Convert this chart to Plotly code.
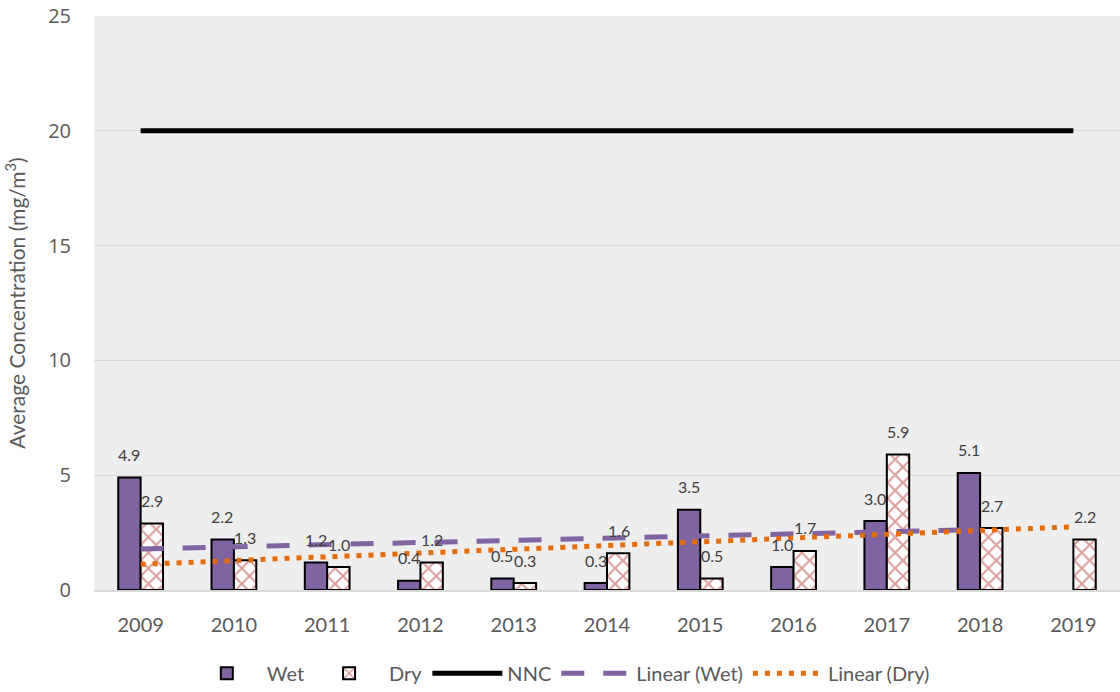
import numpy as np
import plotly.graph_objects as go

# Annual average concentrations (mg/m³)
years = ["2009", "2010", "2011", "2012", "2013", "2014", "2015", "2016", "2017", "2018", "2019"]
wet = [4.9, 2.2, 1.2, 0.4, 0.5, 0.3, 3.5, 1.0, 3.0, 5.1, None]
dry = [2.9, 1.3, 1.0, 1.2, 0.3, 1.6, 0.5, 1.7, 5.9, 2.7, 2.2]
nnc = [20] * len(years)
y_ticks = [0, 5, 10, 15, 20, 25]

PURPLE = "#8064A2"
RED = "#C0504D"
ORANGE = "#E46C0A"
TEXT = "#595959"
FONT = "Lato"


def linear_trend(values):
    idx = np.array([i for i, v in enumerate(values) if v is not None], dtype=float)
    vals = np.array([v for v in values if v is not None], dtype=float)
    slope, intercept = np.polyfit(idx, vals, 1)
    return [intercept + slope * i for i in idx], [years[int(i)] for i in idx]


wet_trend, wet_x = linear_trend(wet)
dry_trend, dry_x = linear_trend(dry)

fig = go.Figure()

fig.add_trace(go.Bar(
    x=years, y=wet, name="Wet",
    marker=dict(color=PURPLE, line=dict(color="black", width=2)),
))
fig.add_trace(go.Bar(
    x=years, y=dry, name="Dry",
    marker=dict(
        color="white",
        line=dict(color="black", width=2),
        pattern=dict(shape="x", fgcolor="#B8403D", bgcolor="white", size=11, solidity=0.36),
    ),
))
fig.add_trace(go.Scatter(
    x=years, y=nnc, name="NNC", mode="lines",
    line=dict(color="black", width=5),
))
fig.add_trace(go.Scatter(
    x=wet_x, y=wet_trend, name="Linear (Wet)", mode="lines",
    line=dict(color=PURPLE, width=5, dash="23px,19px"),
))
fig.add_trace(go.Scatter(
    x=dry_x, y=dry_trend, name="Linear (Dry)", mode="lines",
    line=dict(color=ORANGE, width=5, dash="5px,7px"),
))

# value labels above each bar (category index used as x position)
annotations = []
for series, shift in ((wet, -11.5), (dry, 11.5)):
    for i, v in enumerate(series):
        if v is None:
            continue
        annotations.append(dict(
            x=i, y=v, xref="x", yref="y", text=f"{v:.1f}", showarrow=False,
            xshift=shift, yshift=23, yanchor="middle",
            font=dict(family=FONT, size=16, color="#404040"),
        ))

fig.update_layout(
    width=1120, height=692,
    margin=dict(l=94, r=0, t=16, b=102, autoexpand=False),
    paper_bgcolor="white",
    plot_bgcolor="#EEEEEE",
    barmode="group",
    bargap=0.52,
    bargroupgap=0,
    font=dict(family=FONT, color=TEXT),
    showlegend=True,
    legend=dict(
        orientation="h", x=0.455, xanchor="center",
        y=-0.145, yanchor="middle",
        font=dict(family=FONT, size=20, color=TEXT),
        itemwidth=70, traceorder="normal",
    ),
    annotations=annotations,
)
fig.update_xaxes(
    type="category",
    range=[-0.5, len(years) - 0.5],
    showgrid=False,
    showline=True, linecolor="#D9D9D9", linewidth=2,
    ticks="", ticklabelstandoff=16, tickangle=0,
    tickfont=dict(family=FONT, size=20, color=TEXT),
)
fig.update_yaxes(
    range=[0, 25], tickvals=y_ticks,
    showgrid=True, gridcolor="#D9D9D9", gridwidth=1,
    zeroline=False, showline=False,
    ticks="", ticklabelstandoff=22,
    tickfont=dict(family="Open Sans", size=20, color=TEXT),
    title=dict(text="Average Concentration (mg/m<sup>3</sup>)",
               font=dict(family=FONT, size=21, color=TEXT), standoff=16),
)

fig.write_html("out.html")
